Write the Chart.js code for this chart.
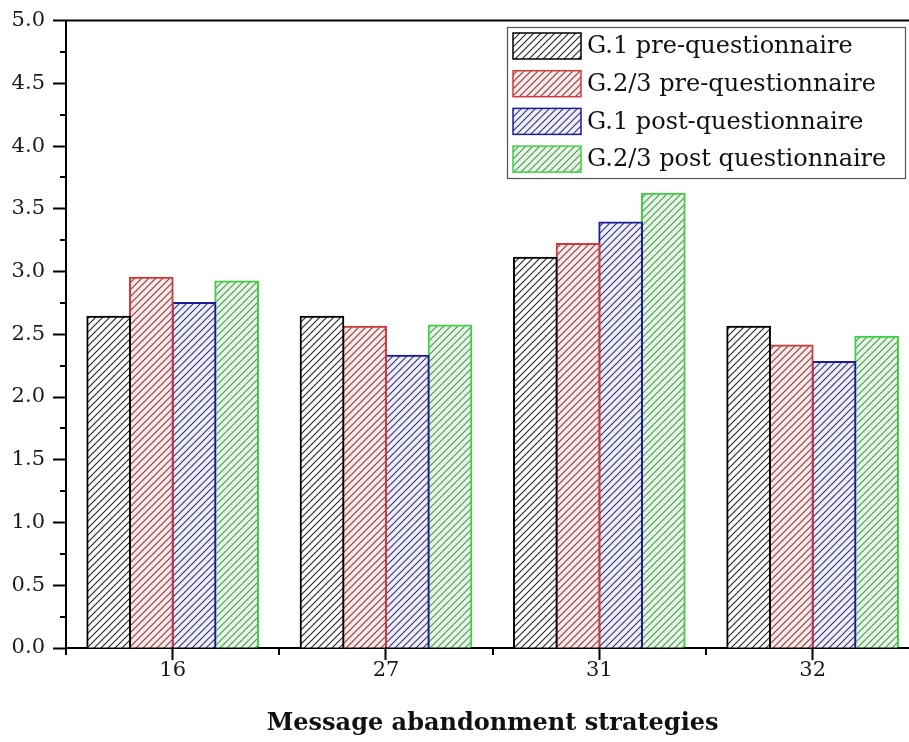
<!DOCTYPE html>
<html>
<head>
<meta charset="utf-8">
<script src="https://cdn.jsdelivr.net/npm/chart.js@4/dist/chart.umd.min.js"></script>
<style>
  html, body { margin: 0; padding: 0; background: #fff; overflow: hidden; }
  canvas { display: block; }
</style>
</head>
<body>
<canvas id="myChart" width="930" height="742"></canvas>
<script>
// Data
const categories = ['16', '27', '31', '32'];
const seriesLabels = [
  'G.1 pre-questionnaire',
  'G.2/3 pre-questionnaire',
  'G.1 post-questionnaire',
  'G.2/3 post questionnaire'
];
const g1Pre = [2.64, 2.64, 3.11, 2.56];
const g23Pre = [2.95, 2.56, 3.22, 2.41];
const g1Post = [2.75, 2.33, 3.39, 2.28];
const g23Post = [2.92, 2.57, 3.62, 2.48];
const yTicks = [0, 0.5, 1, 1.5, 2, 2.5, 3, 3.5, 4, 4.5, 5];

const FONT = 'DejaVu Serif';

// Diagonal hatch pattern
function hatch(lineColor, fillColor) {
  const s = 7;
  const c = document.createElement('canvas');
  c.width = s; c.height = s;
  const g = c.getContext('2d');
  g.fillStyle = fillColor;
  g.fillRect(0, 0, s, s);
  g.strokeStyle = lineColor;
  g.lineWidth = 1.1;
  g.beginPath();
  g.moveTo(-1, s + 1); g.lineTo(s + 1, -1);
  g.moveTo(-s / 2 - 1, s / 2 + 1); g.lineTo(s / 2 + 1, -s / 2 - 1);
  g.moveTo(s / 2 - 1, s * 1.5 + 1); g.lineTo(s * 1.5 + 1, s / 2 - 1);
  g.stroke();
  return g.createPattern(c, 'repeat');
}

const ctx = document.getElementById('myChart').getContext('2d');

// Minor ticks, top frame line and the boxed legend
const extrasPlugin = {
  id: 'extras',
  afterDraw(chart) {
    const c = chart.ctx;
    const area = chart.chartArea;
    const y = chart.scales.y;
    c.save();
    c.strokeStyle = '#000';
    c.lineWidth = 2;
    c.beginPath();
    // top frame line
    c.moveTo(area.left - 1, area.top);
    c.lineTo(chart.width, area.top);
    // minor y ticks
    for (let v = 0.25; v < 5; v += 0.5) {
      const py = Math.round(y.getPixelForValue(v));
      c.moveTo(area.left - 6, py);
      c.lineTo(area.left, py);
    }
    // minor x ticks at group boundaries
    const step = (area.right - area.left) / categories.length;
    for (let i = 0; i <= categories.length; i++) {
      const px = Math.round(area.left + i * step);
      c.moveTo(px, area.bottom);
      c.lineTo(px, area.bottom + 7);
    }
    c.stroke();

    // legend
    const bx = 507, by = 27, bw = 398, bh = 151;
    c.fillStyle = '#fff';
    c.fillRect(bx, by, bw, bh);
    c.strokeStyle = '#555';
    c.lineWidth = 1.2;
    c.strokeRect(bx + 0.5, by + 0.5, bw, bh);
    c.font = '24px "' + FONT + '"';
    c.textBaseline = 'middle';
    c.textAlign = 'left';
    chart.data.datasets.forEach((ds, i) => {
      const sy = by + 6 + i * 37.7;
      c.fillStyle = ds.backgroundColor;
      c.fillRect(bx + 6, sy, 68, 26);
      c.strokeStyle = ds.borderColor;
      c.lineWidth = 1.5;
      c.strokeRect(bx + 6, sy, 68, 26);
      c.fillStyle = '#111';
      c.fillText(ds.label, bx + 80, sy + 14);
    });
    c.restore();
  }
};

new Chart(ctx, {
  type: 'bar',
  data: {
    labels: categories,
    datasets: [
      {
        label: seriesLabels[0],
        data: g1Pre,
        backgroundColor: hatch('#222', '#ffffff'),
        borderColor: '#000000'
      },
      {
        label: seriesLabels[1],
        data: g23Pre,
        backgroundColor: hatch('#7a4040', '#fde6e6'),
        borderColor: '#d03a3a'
      },
      {
        label: seriesLabels[2],
        data: g1Post,
        backgroundColor: hatch('#33336a', '#eeeefb'),
        borderColor: '#1c1c9a'
      },
      {
        label: seriesLabels[3],
        data: g23Post,
        backgroundColor: hatch('#5a8a5a', '#e2f8e2'),
        borderColor: '#3fd03f'
      }
    ]
  },
  options: {
    responsive: false,
    animation: false,
    devicePixelRatio: 1,
    datasets: {
      bar: {
        borderWidth: 2,
        borderSkipped: 'bottom',
        inflateAmount: 1,
        categoryPercentage: 0.8,
        barPercentage: 1.0
      }
    },
    plugins: {
      legend: { display: false },
      tooltip: { enabled: false }
    },
    layout: {
      padding: { left: 0, right: 10.7, top: 18, bottom: 0 }
    },
    scales: {
      x: {
        offset: true,
        grid: {
          offset: false,
          drawOnChartArea: false,
          drawTicks: true,
          tickLength: 12,
          tickWidth: 2,
          tickColor: '#000'
        },
        border: { color: '#000', width: 2 },
        ticks: {
          color: '#1a1a1a',
          padding: -2,
          font: { family: FONT, size: 21 }
        },
        title: {
          display: true,
          text: 'Message abandonment strategies',
          color: '#111',
          font: { family: FONT, size: 24, weight: 'bold' },
          padding: { top: 0, bottom: 4 }
        },
        afterFit(scale) { scale.height = 94; }
      },
      y: {
        min: 0,
        max: 5,
        afterBuildTicks(scale) {
          scale.ticks = yTicks.map(v => ({ value: v }));
        },
        grid: {
          drawOnChartArea: false,
          drawTicks: true,
          tickLength: 13,
          tickWidth: 2,
          tickColor: '#000'
        },
        border: { color: '#000', width: 2 },
        ticks: {
          color: '#1a1a1a',
          padding: 8,
          font: { family: FONT, size: 21 },
          callback: v => Number(v).toFixed(1)
        },
        afterFit(scale) { scale.width = 66; }
      }
    }
  },
  plugins: [extrasPlugin]
});
</script>
</body>
</html>
